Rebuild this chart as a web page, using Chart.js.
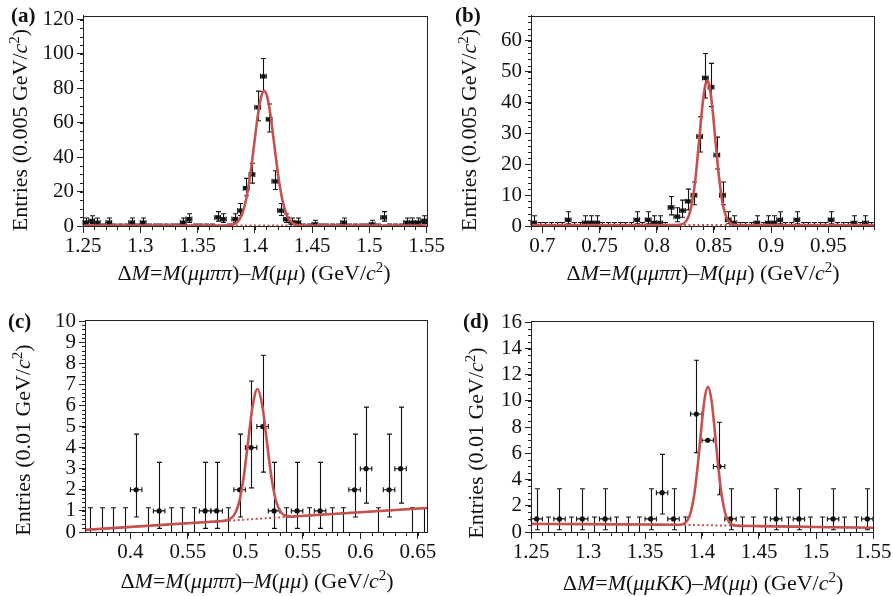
<!DOCTYPE html>
<html><head><meta charset="utf-8">
<script src="https://cdn.jsdelivr.net/npm/chart.js@4.4.0/dist/chart.umd.min.js"></script>
<style>
body{margin:0;background:#fff;width:893px;height:596px;position:relative;overflow:hidden;font-family:"Liberation Serif","Times New Roman",serif;color:#111;}
canvas{position:absolute;display:block}
.lbl{position:absolute;font-weight:bold;font-size:21px;line-height:1;}
.xt{position:absolute;font-size:22px;white-space:nowrap;transform:translate(-50%,-50%);line-height:1}
.yt{position:absolute;font-size:22px;white-space:nowrap;transform:translate(-50%,-50%) rotate(-90deg);line-height:1}
sup{font-size:0.68em;vertical-align:0.55em;line-height:0}
</style></head>
<body>
<canvas id="ca" width="446" height="298" style="left:0;top:0"></canvas>
<canvas id="cb" width="447" height="298" style="left:446px;top:0"></canvas>
<canvas id="cc" width="446" height="298" style="left:0;top:298px"></canvas>
<canvas id="cd" width="447" height="298" style="left:446px;top:298px"></canvas>

<div class="lbl" style="left:11px;top:5px">(a)</div>
<div class="lbl" style="left:455px;top:5px">(b)</div>
<div class="lbl" style="left:8px;top:311px">(c)</div>
<div class="lbl" style="left:463px;top:311px">(d)</div>

<div class="yt" style="left:20px;top:130px">Entries (0.005 GeV/<i>c</i><sup>2</sup>)</div>
<div class="yt" style="left:469px;top:130px">Entries (0.005 GeV/<i>c</i><sup>2</sup>)</div>
<div class="yt" style="left:23px;top:440px">Entries (0.01 GeV/<i>c</i><sup>2</sup>)</div>
<div class="yt" style="left:476px;top:443px">Entries (0.01 GeV/<i>c</i><sup>2</sup>)</div>

<div class="xt" style="left:254px;top:273px">Δ<i>M</i>=<i>M</i>(<i>μμππ</i>)–<i>M</i>(<i>μμ</i>) (GeV/<i>c</i><sup>2</sup>)</div>
<div class="xt" style="left:703px;top:273px">Δ<i>M</i>=<i>M</i>(<i>μμππ</i>)–<i>M</i>(<i>μμ</i>) (GeV/<i>c</i><sup>2</sup>)</div>
<div class="xt" style="left:257px;top:581px">Δ<i>M</i>=<i>M</i>(<i>μμππ</i>)–<i>M</i>(<i>μμ</i>) (GeV/<i>c</i><sup>2</sup>)</div>
<div class="xt" style="left:703px;top:583px">Δ<i>M</i>=<i>M</i>(<i>μμKK</i>)–<i>M</i>(<i>μμ</i>) (GeV/<i>c</i><sup>2</sup>)</div>

<script>
// ---------- DATA ----------
// panel (a): bins of 0.005 from 1.25
const aBinStart = 1.25, aBinWidth = 0.005;
const aCounts = [2,3,2,0,2,0,0,0,2,0, 2,0,0,0,0,0,0,2,4,0, 0,0,0,5,4,0,4,9,22,30, 69,87,62,26,9,4,2,2,0,0, 1,0,0,0,0,2,0,0,0,0, 1,0,5,0,0,0,2,2,2,3];
const aFitX = [1.25,1.37,1.38,1.3825,1.385,1.3875,1.39,1.3925,1.395,1.397,1.40,1.402,1.404,1.406,1.4082,1.410,1.412,1.414,1.416,1.418,1.42,1.4225,1.425,1.4275,1.43,1.4325,1.435,1.44,1.45,1.55];
const aFitY = [0.3,0.3,0.7,1.3,2.5,4.9,9.1,15.7,25.1,34.5,50.5,61.1,70.0,76.1,78.6,76.9,71.5,63.0,52.7,41.8,31.5,20.6,12.4,7.0,3.7,1.9,1.0,0.4,0.3,0.3];
const aBgX = [1.25,1.55], aBgY = [0.3,0.3];
const aXTicks = [1.25,1.3,1.35,1.4,1.45,1.5,1.55];
const aXLabels = ["1.25","1.3","1.35","1.4","1.45","1.5","1.55"];
const aYTicks = [0,20,40,60,80,100,120];

// panel (b): bins of 0.005 from 0.69
const bBinStart = 0.69, bBinWidth = 0.005;
const bCounts = [1,0,0,0,0,0,2,0,0,1, 1,1,0,0,0,0,0,0,2,0, 2,1,1,0,6,3,5,8,10,29, 48,45,23,10,2,1,0,0,0,1, 0,1,1,2,0,0,2,0,0,0, 0,0,2,0,0,0,1,0,1,0];
const bFitX = [0.69,0.81,0.82,0.825,0.828,0.831,0.834,0.837,0.840,0.8425,0.8442,0.846,0.8485,0.8515,0.8545,0.8575,0.8605,0.8635,0.868,0.875,0.99];
const bFitY = [0.3,0.3,0.4,1.3,3.3,7.8,16.0,27.5,39.2,45.7,47.1,45.5,38.8,27.0,15.7,7.6,3.2,1.2,0.4,0.3,0.3];
const bBgX = [0.69,0.99], bBgY = [0.3,0.3];
const bXTicks = [0.7,0.75,0.8,0.85,0.9,0.95];
const bXLabels = ["0.7","0.75","0.8","0.85","0.9","0.95"];
const bYTicks = [0,10,20,30,40,50,60];

// panel (c): bins of 0.01 from 0.36
const cBinStart = 0.36, cBinWidth = 0.01;
const cCounts = [0,0,0,0,2,0,1,0,0,0, 1,1,0,2,4,5,1,0,1,0, 1,0,0,2,3,0,2,3,0,0];
const cFitX = [0.3605,0.47,0.48,0.486,0.490,0.494,0.498,0.502,0.506,0.5105,0.515,0.519,0.523,0.527,0.531,0.535,0.540,0.545,0.658];
const cFitY = [0.10,0.485,0.52,0.60,0.79,1.30,2.40,4.10,5.86,6.78,5.89,4.16,2.48,1.41,0.93,0.77,0.73,0.748,1.14];
const cBgX = [0.3605,0.658], cBgY = [0.10,1.14];
const cXTicks = [0.4,0.45,0.5,0.55,0.6,0.65];
const cXLabels = ["0.4","0.55","0.5","0.55","0.6","0.65"];
const cYTicks = [0,1,2,3,4,5,6,7,8,9,10];

// panel (d): bins of 0.01 from 1.25
const dBinStart = 1.25, dBinWidth = 0.01;
const dCounts = [1,0,1,0,1,0,1,0,0,0, 1,3,1,0,9,7,5,1,0,0, 0,1,0,1,0,0,1,0,0,1];
const dFitX = [1.25,1.30,1.35,1.3802,1.3842,1.3872,1.3902,1.3932,1.3962,1.3992,1.4022,1.4052,1.4082,1.4112,1.4142,1.4172,1.4202,1.4232,1.4262,1.4302,1.45,1.50,1.55];
const dFitY = [0.62,0.60,0.57,0.555,0.64,0.885,1.52,2.86,5.03,7.75,10.12,11.07,10.12,7.74,5.02,2.83,1.49,0.84,0.585,0.49,0.45,0.38,0.32];
const dBgX = [1.25,1.30,1.35,1.40,1.45,1.50,1.55], dBgY = [0.62,0.60,0.57,0.52,0.45,0.38,0.32];
const dXTicks = [1.25,1.3,1.35,1.4,1.45,1.5,1.55];
const dXLabels = ["1.25","1.3","1.35","1.4","1.45","1.5","1.55"];
const dYTicks = [0,2,4,6,8,10,12,14,16];

// Poisson error band limits per count
const errLow  = {0:0,1:0.17,2:0.71,3:1.37,4:2.09,5:2.84,6:3.62,8:5.23,9:6.06,10:6.89,22:17.6,23:18.5,26:21.2,29:24.0,30:24.9,45:38.7,48:41.5,62:54.6,69:61.2,87:78.2};
const errHigh = {0:1.15,1:3.30,2:4.64,3:5.92,4:7.16,5:8.38,6:9.58,8:11.95,9:13.11,10:14.27,22:27.7,23:28.8,26:32.1,29:35.4,30:36.5,45:52.7,48:55.9,62:70.9,69:78.4,87:97.4};

// ---------- DRAWING ----------
const RED = '#c4524f';
const INK = '#111';
const FONT = "'Liberation Serif','Times New Roman',serif";

const errPlugin = {
  id: 'errbars',
  beforeDatasetsDraw(chart, args, o) {
    const ctx = chart.ctx, xs = chart.scales.x, ys = chart.scales.y;
    ctx.save();
    ctx.strokeStyle = INK; ctx.lineWidth = 1.1;
    o.counts.forEach((n, k) => {
      const xc = o.binStart + o.binWidth * (k + 0.5);
      const px = Math.round(xs.getPixelForValue(xc)) + 0.5;
      const yLo = ys.getPixelForValue(errLow[n]);
      const yHi = ys.getPixelForValue(errHigh[n]);
      const yc = ys.getPixelForValue(n);
      ctx.beginPath();
      ctx.moveTo(px, yLo); ctx.lineTo(px, yHi);
      ctx.moveTo(px - o.cap, yHi); ctx.lineTo(px + o.cap, yHi);
      if (n > 0) { ctx.moveTo(px - o.cap, yLo); ctx.lineTo(px + o.cap, yLo); }
      if (n > 0 && o.hbar) {
        const xl = xs.getPixelForValue(xc - o.binWidth / 2), xr = xs.getPixelForValue(xc + o.binWidth / 2);
        ctx.moveTo(xl, yc); ctx.lineTo(xr, yc);
        ctx.moveTo(xl, yc - o.hcap); ctx.lineTo(xl, yc + o.hcap);
        ctx.moveTo(xr, yc - o.hcap); ctx.lineTo(xr, yc + o.hcap);
      }
      ctx.stroke();
    });
    ctx.restore();
  }
};

const framePlugin = {
  id: 'frame',
  afterDraw(chart, args, o) {
    const ctx = chart.ctx, a = chart.chartArea, xs = chart.scales.x, ys = chart.scales.y;
    ctx.save();
    ctx.strokeStyle = '#222'; ctx.lineWidth = 1;
    ctx.strokeRect(Math.round(a.left) + 0.5, Math.round(a.top) + 0.5, Math.round(a.right - a.left), Math.round(a.bottom - a.top));
    ctx.beginPath();
    for (let v = o.xMinorStart; v <= xs.max + 1e-9; v += o.xMinor) {
      const p = Math.round(xs.getPixelForValue(v)) + 0.5;
      if (p < a.left - 0.5 || p > a.right + 0.5) continue;
      ctx.moveTo(p, a.bottom); ctx.lineTo(p, a.bottom + 4);
    }
    for (let v = 0; v <= ys.max + 1e-9; v += o.yMinor) {
      const p = Math.round(ys.getPixelForValue(v)) + 0.5;
      ctx.moveTo(a.left, p); ctx.lineTo(a.left - 3, p);
    }
    ctx.stroke();
    ctx.restore();
  }
};

function pts(xa, ya) { return xa.map((x, i) => ({ x: x, y: ya[i] })); }

function makePanel(id, p) {
  const data = p.counts.map((n, k) => ({ x: p.binStart + p.binWidth * (k + 0.5), y: n }));
  new Chart(document.getElementById(id), {
    type: 'scatter',
    data: { datasets: [
      { data: pts(p.fitX, p.fitY), showLine: true, borderColor: RED, borderWidth: 2.6, pointRadius: 0, cubicInterpolationMode: 'monotone', order: 0 },
      { data: data, pointStyle: p.marker, pointRadius: c => (c.raw && c.raw.y > 0 ? p.msize : 0), backgroundColor: INK, borderColor: INK, borderWidth: 0, order: 1 },
      { data: pts(p.bgX, p.bgY), showLine: true, borderColor: RED, borderWidth: 2, borderDash: [2, 2.5], pointRadius: 0, cubicInterpolationMode: 'monotone', order: 2 }
    ]},
    options: {
      responsive: false, animation: false, events: [],
      layout: { padding: { left: 0, top: p.area.t, right: p.w - p.area.r, bottom: p.h - p.area.b - 40 } },
      plugins: { legend: { display: false }, tooltip: { enabled: false },
        errbars: { counts: p.counts, binStart: p.binStart, binWidth: p.binWidth, cap: p.cap, hbar: p.hbar, hcap: 2.5 },
        frame: { xMinor: p.xMinor, xMinorStart: p.xMinorStart, yMinor: p.yMinor } },
      scales: {
        x: { type: 'linear', min: p.xMin, max: p.xMax,
          afterBuildTicks: s => { s.ticks = p.xTicks.map(v => ({ value: v })); },
          afterFit: s => { s.height = 40; },
          ticks: { callback: (v, i) => p.xLabels[i], font: { family: FONT, size: 21 }, color: INK, padding: 1, maxRotation: 0, autoSkip: false },
          grid: { drawOnChartArea: false, drawTicks: true, tickLength: 7, color: '#222' },
          border: { display: true, color: '#222' } },
        y: { type: 'linear', min: 0, max: p.yMax,
          afterBuildTicks: s => { s.ticks = p.yTicks.map(v => ({ value: v })); },
          afterFit: s => { s.width = p.area.l; },
          ticks: { callback: v => String(v), font: { family: FONT, size: 21 }, color: INK, padding: 3, autoSkip: false },
          grid: { drawOnChartArea: false, drawTicks: true, tickLength: 6, color: '#222' },
          border: { display: true, color: '#222' } }
      }
    },
    plugins: [errPlugin, framePlugin]
  });
}

makePanel('ca', { w: 446, h: 298, area: { l: 83, r: 427, t: 15, b: 226 },
  xMin: 1.25, xMax: 1.55, yMax: 122.3, xTicks: aXTicks, xLabels: aXLabels, yTicks: aYTicks,
  xMinor: 0.01, xMinorStart: 1.25, yMinor: 5,
  counts: aCounts, binStart: aBinStart, binWidth: aBinWidth, marker: 'rect', msize: 3, cap: 2.5, hbar: true,
  fitX: aFitX, fitY: aFitY, bgX: aBgX, bgY: aBgY });

makePanel('cb', { w: 447, h: 298, area: { l: 85, r: 428, t: 15, b: 226 },
  xMin: 0.69, xMax: 0.99, yMax: 68.2, xTicks: bXTicks, xLabels: bXLabels, yTicks: bYTicks,
  xMinor: 0.01, xMinorStart: 0.69, yMinor: 2,
  counts: bCounts, binStart: bBinStart, binWidth: bBinWidth, marker: 'rect', msize: 3, cap: 2.5, hbar: true,
  fitX: bFitX, fitY: bFitY, bgX: bBgX, bgY: bBgY });

makePanel('cc', { w: 446, h: 298, area: { l: 85, r: 427, t: 22, b: 234 },
  xMin: 0.3605, xMax: 0.658, yMax: 10.05, xTicks: cXTicks, xLabels: cXLabels, yTicks: cYTicks,
  xMinor: 0.01, xMinorStart: 0.37, yMinor: 0.2,
  counts: cCounts, binStart: cBinStart, binWidth: cBinWidth, marker: 'circle', msize: 2.6, cap: 2.5, hbar: true,
  fitX: cFitX, fitY: cFitY, bgX: cBgX, bgY: cBgY });

makePanel('cd', { w: 447, h: 298, area: { l: 85, r: 427, t: 23, b: 234 },
  xMin: 1.25, xMax: 1.55, yMax: 16.1, xTicks: dXTicks, xLabels: dXLabels, yTicks: dYTicks,
  xMinor: 0.01, xMinorStart: 1.25, yMinor: 0.5,
  counts: dCounts, binStart: dBinStart, binWidth: dBinWidth, marker: 'circle', msize: 2.6, cap: 2.5, hbar: true,
  fitX: dFitX, fitY: dFitY, bgX: dBgX, bgY: dBgY });
</script>
</body></html>
